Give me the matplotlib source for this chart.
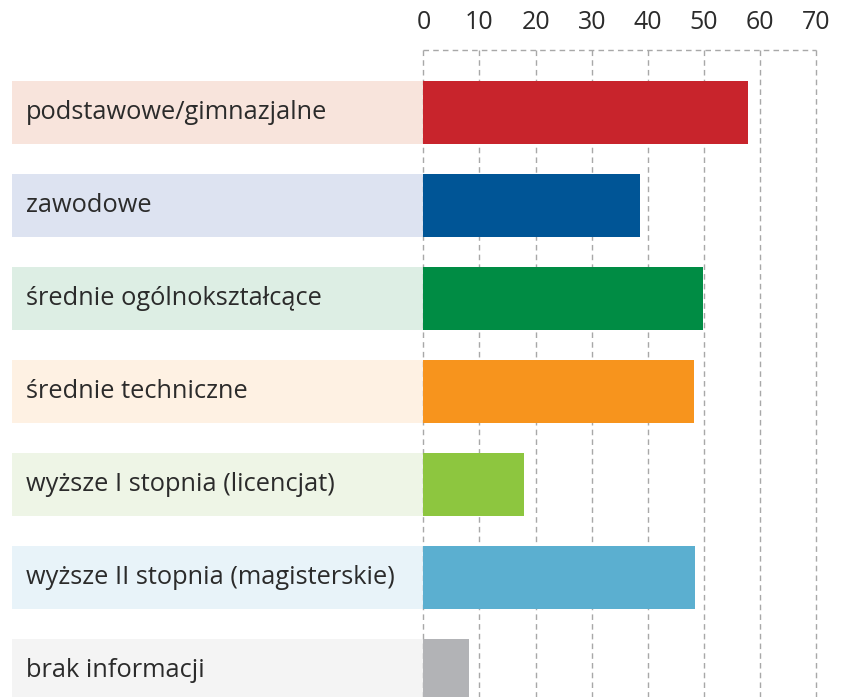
import matplotlib
matplotlib.use("Agg")
from matplotlib import pyplot as plt

categories = [
    "podstawowe/gimnazjalne",
    "zawodowe",
    "średnie ogólnokształcące",
    "średnie techniczne",
    "wyższe I stopnia (licencjat)",
    "wyższe II stopnia (magisterskie)",
    "brak informacji",
]
values = [57.8, 38.6, 49.8, 48.2, 18.0, 48.4, 8.1]
bar_colors = ["#C8242C", "#005596", "#008C44", "#F7941D", "#8DC63F", "#5BAFD0", "#B2B3B6"]
bg_colors = ["#F8E4DC", "#DDE3F1", "#DDEEE4", "#FEF1E3", "#EEF5E6", "#E8F3F9", "#F4F4F4"]
ticks = [0, 10, 20, 30, 40, 50, 60, 70]

plt.rcParams['font.family'] = ['Open Sans', 'DejaVu Sans']

fig = plt.figure(figsize=(8.42, 6.97), dpi=100)
ax = fig.add_axes([0, 0, 1, 1])
ax.set_xlim(-75.45, 74.6)
ax.set_ylim(6.287, -1.2075)
ax.axis("off")

rows = list(range(len(categories)))
label_left = -73.3
ax.barh(rows, [-label_left] * len(rows), left=label_left, height=0.674, color=bg_colors, zorder=1)
ax.barh(rows, values, height=0.674, color=bar_colors, zorder=3)

grid_top = -0.67
for t in ticks:
    ax.plot([t, t], [grid_top, 6.3], color="#A8A8A8", lw=1, ls=(0, (4, 3)), zorder=2)
    ax.text(t, -1.2075 + 22 / 93, str(t), ha="center", va="center", fontsize=18, color="#2B2B2B")
ax.plot([0, 70], [grid_top, grid_top], color="#A8A8A8", lw=1, ls=(0, (4, 3)), zorder=2)

for i, name in enumerate(categories):
    ax.text(-70.8, i, name, ha="left", va="center", fontsize=18.3, color="#2B2B2B", zorder=4)

fig.savefig("out.png", dpi=100)
